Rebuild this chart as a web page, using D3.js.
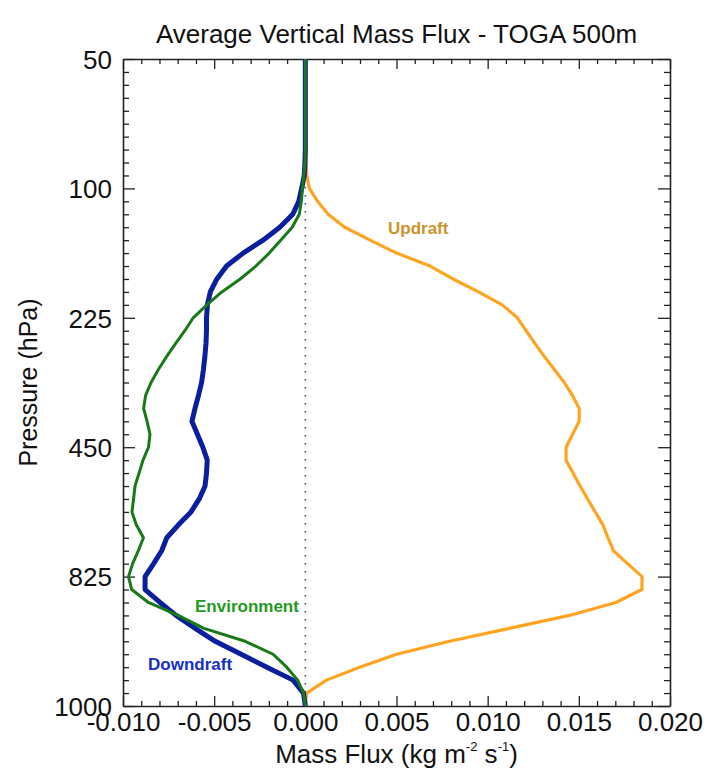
<!DOCTYPE html>
<html><head><meta charset="utf-8">
<script src="https://cdn.jsdelivr.net/npm/d3@7"></script>
<style>
body{margin:0;background:#fff;}
text{font-family:"Liberation Sans",Arial,Helvetica,sans-serif;}
</style></head>
<body><svg id="c" width="713" height="768"></svg>
<script>
// Vertical levels (equally spaced in the plot), 0 = 1000 hPa, 50 = 50 hPa
const levels = [0,1,2,3,4,5,6,7,8,9,10,11,12,13,14,15,16,17,18,19,20,21,22,23,24,25,26,27,28,29,30,31,32,33,34,35,36,37,38,39,40,41,42,43,44,45,46,47,48,49,50];
const pressureTickLevels = [0,10,20,30,40,50];
const pressureTickLabels = ["1000","825","450","225","100","50"];
const xTicks = [-0.010,-0.005,0.000,0.005,0.010,0.015,0.020];

const updraft = [0,0.00007,0.00116,0.00298,0.00500,0.00791,0.01119,0.01448,0.01703,0.01846,
 0.01847,0.01767,0.01690,0.01660,0.01632,0.01590,0.01548,0.01507,0.01468,0.01430,
 0.01430,0.01466,0.01502,0.01502,0.01465,0.01420,0.01366,0.01311,0.01260,0.01211,
 0.01163,0.01080,0.00950,0.00810,0.00684,0.00500,0.00355,0.00216,0.00125,0.00067,
 0.00022,0.00008,0.00004,0.00002,0,0,0,0,0,0,0];
const downdraft = [0,-0.0001,-0.00067,-0.00211,-0.00352,-0.00494,-0.00604,-0.00709,-0.00797,-0.00879,
 -0.00879,-0.00832,-0.00788,-0.00760,-0.00696,-0.00627,-0.00582,-0.00550,-0.00542,-0.00538,
 -0.00562,-0.00592,-0.00622,-0.00605,-0.00586,-0.00569,-0.00559,-0.00551,-0.00545,-0.00542,
 -0.00542,-0.00537,-0.00521,-0.00485,-0.00432,-0.00341,-0.00232,-0.00140,-0.00069,-0.00036,
 -0.00020,-0.00006,-0.00002,0,0,0,0,0,0,0,0];
const environment = [0,-0.0001,-0.00042,-0.00102,-0.00177,-0.00330,-0.00556,-0.00698,-0.00861,-0.00952,
 -0.00970,-0.00947,-0.00916,-0.00888,-0.00927,-0.00951,-0.00942,-0.00934,-0.00912,-0.00890,
 -0.00860,-0.00852,-0.00868,-0.00887,-0.00876,-0.00846,-0.00806,-0.00761,-0.00712,-0.00661,
 -0.00615,-0.00540,-0.00458,-0.00357,-0.00271,-0.00198,-0.00135,-0.00072,-0.00033,-0.00022,
 -0.00016,-0.00009,-0.00002,0,0,0,0,0,0,0,0];

const svg = d3.select("#c");
const L = 123, R = 670, T = 59, B = 706;
const x = d3.scaleLinear().domain([-0.010, 0.020]).range([L, R]);
const y = d3.scaleLinear().domain([0, 50]).range([B, T]);

const xMinor = d3.range(-10, 21).map(d => d / 1000).filter(d => Math.round(d*1000) % 5 !== 0);
const yMinor = levels.filter(d => d % 10 !== 0);
const fmt = d => d.toFixed(3);
const axisColor = "#222";

function styleAxis(g){
  g.selectAll("path.domain").attr("stroke", axisColor).attr("stroke-width", 1.6);
  g.selectAll(".tick line").attr("stroke", axisColor).attr("stroke-width", 1.3);
  g.selectAll("text").attr("font-size", 26).attr("fill", "#111")
   .attr("font-family", '"Liberation Sans",Arial,Helvetica,sans-serif');
}

// bottom
svg.append("g").attr("transform", `translate(0,${B})`)
  .call(d3.axisBottom(x).tickValues(xTicks).tickFormat(fmt).tickSize(-10).tickPadding(7).tickSizeOuter(0))
  .call(styleAxis);
svg.append("g").attr("transform", `translate(0,${B})`)
  .call(d3.axisBottom(x).tickValues(xMinor).tickFormat("").tickSize(-5).tickSizeOuter(0))
  .call(g => g.select(".domain").remove()).call(styleAxis);
// top
svg.append("g").attr("transform", `translate(0,${T})`)
  .call(d3.axisTop(x).tickValues(xTicks).tickFormat("").tickSize(-10).tickSizeOuter(0))
  .call(styleAxis);
svg.append("g").attr("transform", `translate(0,${T})`)
  .call(d3.axisTop(x).tickValues(xMinor).tickFormat("").tickSize(-5).tickSizeOuter(0))
  .call(g => g.select(".domain").remove()).call(styleAxis);
// left
svg.append("g").attr("transform", `translate(${L},0)`)
  .call(d3.axisLeft(y).tickValues(pressureTickLevels).tickFormat((d,i) => pressureTickLabels[i]).tickSize(-12).tickPadding(11).tickSizeOuter(0))
  .call(styleAxis)
  .call(g => g.selectAll("text").attr("dy", "0.36em"));
svg.append("g").attr("transform", `translate(${L},0)`)
  .call(d3.axisLeft(y).tickValues(yMinor).tickFormat("").tickSize(-6).tickSizeOuter(0))
  .call(g => g.select(".domain").remove()).call(styleAxis);
// right
svg.append("g").attr("transform", `translate(${R},0)`)
  .call(d3.axisRight(y).tickValues(pressureTickLevels).tickFormat("").tickSize(-12).tickSizeOuter(0))
  .call(styleAxis);
svg.append("g").attr("transform", `translate(${R},0)`)
  .call(d3.axisRight(y).tickValues(yMinor).tickFormat("").tickSize(-6).tickSizeOuter(0))
  .call(g => g.select(".domain").remove()).call(styleAxis);

// lines
const line = vals => d3.line().x((d,i) => x(vals[i])).y(d => y(d))(levels);
svg.append("path").attr("d", line(updraft)).attr("fill","none").attr("stroke","#ffa420").attr("stroke-width",3.2).attr("stroke-linejoin","round");
svg.append("path").attr("d", line(downdraft)).attr("fill","none").attr("stroke","#0a1f9e").attr("stroke-width",5).attr("stroke-linejoin","round");
svg.append("path").attr("d", line(environment)).attr("fill","none").attr("stroke","#177a17").attr("stroke-width",3).attr("stroke-linejoin","round");

// zero dotted line
svg.append("line").attr("x1", x(0)).attr("x2", x(0)).attr("y1", y(50)).attr("y2", y(0))
  .attr("stroke","#555").attr("stroke-width",1.6).attr("stroke-dasharray","1.6,6.4");

// labels
svg.append("text").attr("x",388).attr("y",234).attr("font-size",17).attr("font-weight","bold").attr("fill","#c9952a").text("Updraft");
svg.append("text").attr("x",195).attr("y",612).attr("font-size",17).attr("font-weight","bold").attr("fill","#1e9a1e").text("Environment");
svg.append("text").attr("x",148).attr("y",670).attr("font-size",17).attr("font-weight","bold").attr("fill","#1530c8").text("Downdraft");

// title
svg.append("text").attr("x",(L+R)/2).attr("y",43).attr("text-anchor","middle").attr("font-size",26).attr("fill","#111")
  .text("Average Vertical Mass Flux - TOGA 500m");

// x title
const xt = svg.append("text").attr("x",(L+R)/2).attr("y",763).attr("text-anchor","middle").attr("font-size",26).attr("fill","#111");
xt.append("tspan").text("Mass Flux (kg m");
xt.append("tspan").attr("font-size",13).attr("dy",-12).text("-2");
xt.append("tspan").attr("dy",12).text(" s");
xt.append("tspan").attr("font-size",13).attr("dy",-12).text("-1");
xt.append("tspan").attr("dy",12).text(")");

// y title
svg.append("text").attr("transform",`translate(37,${(T+B)/2}) rotate(-90)`).attr("text-anchor","middle")
  .attr("font-size",25).attr("fill","#111").text("Pressure (hPa)");
</script></body></html>
